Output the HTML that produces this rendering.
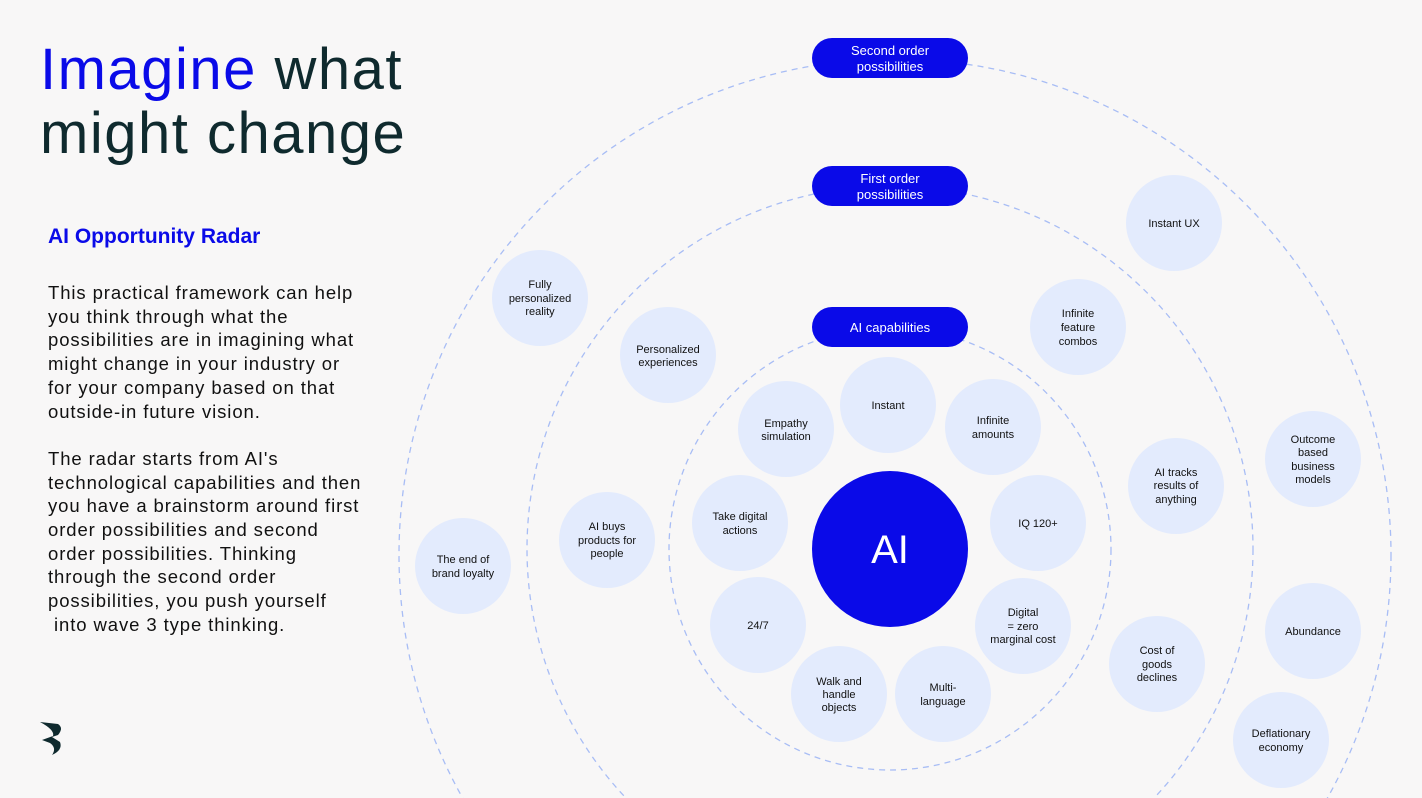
<!DOCTYPE html>
<html style="overflow:hidden"><head><style>
body{margin:0;width:1422px;height:798px;background:#f8f7f7;overflow:hidden;font-family:"Liberation Sans",sans-serif;position:relative}
.t{position:absolute;left:40px;top:38px;font-size:58px;line-height:64px;color:#0f2a2e;letter-spacing:1.5px;white-space:nowrap}
.h{position:absolute;left:48px;top:225px;font-size:21px;font-weight:bold;color:#0a0ae8}
.b{position:absolute;left:48px;top:281px;font-size:18.5px;line-height:23.7px;color:#111;white-space:nowrap;letter-spacing:0.9px}
svg{position:absolute;left:0;top:0}
svg text{font-family:"Liberation Sans",sans-serif;font-size:11px;fill:#111;text-anchor:middle}
</style></head><body>
<div class="t"><span style="color:#0a0ae8">Imagine</span> what<br>might change</div>
<div class="h">AI Opportunity Radar</div>
<div class="b">This practical framework can help<br>you think through what the<br>possibilities are in imagining what<br>might change in your industry or<br>for your company based on that<br>outside-in future vision.<br><br>The radar starts from AI's<br>technological capabilities and then<br>you have a brainstorm around first<br>order possibilities and second<br>order possibilities. Thinking<br>through the second order<br>possibilities, you push yourself<br>&nbsp;into wave 3 type thinking.</div>
<svg width="1422" height="798" viewBox="0 0 1422 798">
<g fill="none" stroke="#a8bdf5" stroke-width="1.3" stroke-dasharray="6 5">
<circle cx="890" cy="549" r="221"/><circle cx="890" cy="549" r="363"/><circle cx="895" cy="555" r="496"/>
</g>
<path d="M40 722 L58 724 Q64 728 58 735 L52 737 L60 742 Q63 750 52 755 Q57 748 50 743 L42 740 L53 736 Q55 730 40 722Z" fill="#0f2a2e"/>
<g fill="#e3ebfd">
<circle cx="888" cy="405" r="48"/><circle cx="993" cy="427" r="48"/><circle cx="1038" cy="523" r="48"/><circle cx="1023" cy="626" r="48"/><circle cx="943" cy="694" r="48"/><circle cx="839" cy="694" r="48"/><circle cx="758" cy="625" r="48"/><circle cx="740" cy="523" r="48"/><circle cx="786" cy="429" r="48"/>
<circle cx="668" cy="355" r="48"/><circle cx="607" cy="540" r="48"/><circle cx="1078" cy="327" r="48"/><circle cx="1176" cy="486" r="48"/><circle cx="1157" cy="664" r="48"/>
<circle cx="540" cy="298" r="48"/><circle cx="463" cy="566" r="48"/><circle cx="1174" cy="223" r="48"/><circle cx="1313" cy="459" r="48"/><circle cx="1313" cy="631" r="48"/><circle cx="1281" cy="740" r="48"/>
</g>
<circle cx="890" cy="549" r="78" fill="#0a0ae8"/>
<text x="890" y="563" style="font-size:40px;fill:#fff">AI</text>
<g fill="#0a0ae8"><rect x="812" y="38" width="156" height="40" rx="20"/><rect x="812" y="166" width="156" height="40" rx="20"/><rect x="812" y="307" width="156" height="40" rx="20"/></g>
<text x="890" y="55" style="fill:#fff;font-size:13px">Second order</text><text x="890" y="71" style="fill:#fff;font-size:13px">possibilities</text>
<text x="890" y="183" style="fill:#fff;font-size:13px">First order</text><text x="890" y="199" style="fill:#fff;font-size:13px">possibilities</text>
<text x="890" y="332" style="fill:#fff;font-size:13px">AI capabilities</text>
<text x="888" y="409">Instant</text>
<text x="993" y="424">Infinite</text><text x="993" y="438">amounts</text>
<text x="1038" y="527">IQ 120+</text>
<text x="1023" y="616">Digital</text><text x="1023" y="630">= zero</text><text x="1023" y="643">marginal cost</text>
<text x="943" y="691">Multi-</text><text x="943" y="705">language</text>
<text x="839" y="685">Walk and</text><text x="839" y="698">handle</text><text x="839" y="711">objects</text>
<text x="758" y="629">24/7</text>
<text x="740" y="520">Take digital</text><text x="740" y="534">actions</text>
<text x="786" y="427">Empathy</text><text x="786" y="440">simulation</text>
<text x="668" y="353">Personalized</text><text x="668" y="366">experiences</text>
<text x="607" y="530">AI buys</text><text x="607" y="544">products for</text><text x="607" y="557">people</text>
<text x="1078" y="317">Infinite</text><text x="1078" y="331">feature</text><text x="1078" y="345">combos</text>
<text x="1176" y="476">AI tracks</text><text x="1176" y="489">results of</text><text x="1176" y="503">anything</text>
<text x="1157" y="654">Cost of</text><text x="1157" y="668">goods</text><text x="1157" y="681">declines</text>
<text x="540" y="288">Fully</text><text x="540" y="302">personalized</text><text x="540" y="315">reality</text>
<text x="463" y="563">The end of</text><text x="463" y="577">brand loyalty</text>
<text x="1174" y="227">Instant UX</text>
<text x="1313" y="443">Outcome</text><text x="1313" y="456">based</text><text x="1313" y="470">business</text><text x="1313" y="483">models</text>
<text x="1313" y="635">Abundance</text>
<text x="1281" y="737">Deflationary</text><text x="1281" y="751">economy</text>
</svg>
</body></html>
